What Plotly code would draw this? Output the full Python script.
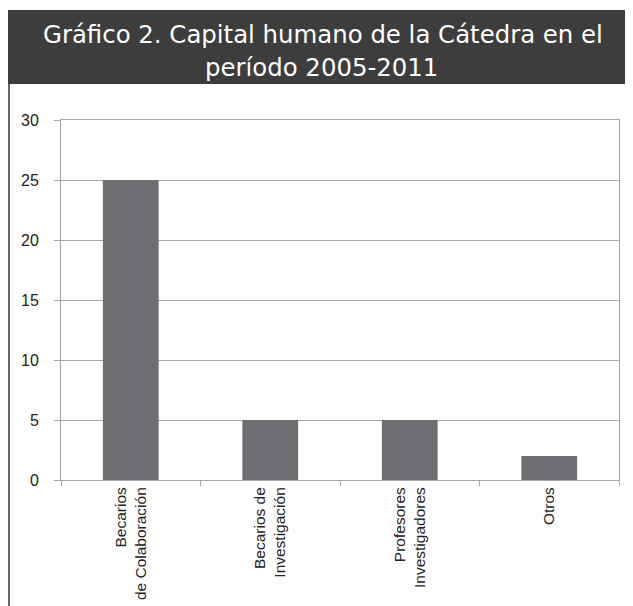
import plotly.graph_objects as go

categories = ["Becarios<br>de Colaboración", "Becarios de<br>Investigación",
              "Profesores<br>Investigadores", "Otros"]
values = [25, 5, 5, 2]
y_ticks = [0, 5, 10, 15, 20, 25, 30]
title_lines = ["Gráfico 2. Capital humano de la Cátedra en el", "período 2005-2011"]

OFF = 8  # page body margin
W, H = 633 - OFF, 606 - OFF
L, R, T, B = 61 - OFF, 14, 120 - OFF, 126
pw, ph = W - L - R, H - T - B


def px_x(sx):
    return (sx - OFF - L) / pw


def px_y(sy):
    return (H - B - (sy - OFF)) / ph


fig = go.Figure(go.Bar(
    x=categories, y=values, marker_color="#6d6e71", marker_line_width=0,
))

font_main = "Liberation Sans, Arial, sans-serif"
axis_col = "#a6a6a6"

fig.update_layout(
    width=W, height=H, margin=dict(l=L, r=R, t=T, b=B, autoexpand=False),
    paper_bgcolor="white", plot_bgcolor="white",
    bargap=0.6, showlegend=False,
    font=dict(family=font_main, size=16, color="#222"),
    xaxis=dict(
        type="category", tickangle=-90, tickson="boundaries",
        ticks="outside", ticklen=5, tickcolor=axis_col, automargin=False,
        showline=True, linecolor=axis_col, linewidth=1, mirror=True,
        showgrid=False, tickfont=dict(size=15.5, color="#222"),
    ),
    yaxis=dict(
        range=[0, 30], tickvals=y_ticks, ticks="outside", ticklen=6,
        tickcolor=axis_col, showline=True, linecolor=axis_col, linewidth=1,
        mirror=True, gridcolor=axis_col, gridwidth=1, zeroline=False,
        ticklabelstandoff=12, automargin=False,
        tickfont=dict(size=16, color="#222"),
    ),
    shapes=[
        dict(type="rect", xref="paper", yref="paper",
             x0=px_x(7), x1=px_x(634), y0=px_y(84), y1=px_y(10),
             fillcolor="#3d3d3d", line_width=0, layer="below"),
        dict(type="line", xref="paper", yref="paper",
             x0=px_x(9), x1=px_x(9), y0=px_y(84), y1=px_y(607),
             line=dict(color="#333", width=1.5)),
    ],
    annotations=[
        dict(text=title_lines[0], xref="paper", yref="paper",
             x=px_x(323), y=px_y(35), showarrow=False, yanchor="middle",
             font=dict(family="DejaVu Sans, sans-serif", size=24.4, color="white")),
        dict(text=title_lines[1], xref="paper", yref="paper",
             x=px_x(321), y=px_y(67), showarrow=False, yanchor="middle",
             font=dict(family="DejaVu Sans, sans-serif", size=24.4, color="white")),
    ],
)

fig.write_html("out.html")
